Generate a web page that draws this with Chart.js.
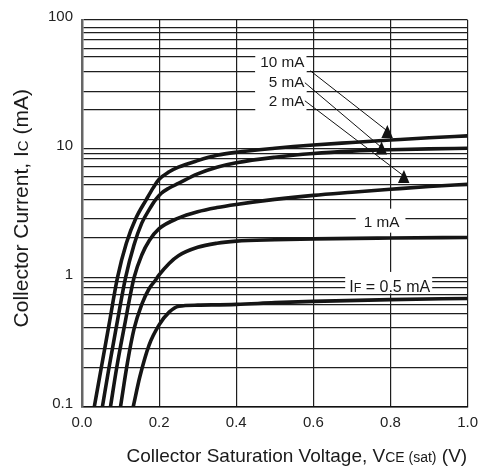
<!DOCTYPE html>
<html><head><meta charset="utf-8">
<style>html,body{margin:0;padding:0;background:#fff}#wrap{width:485px;height:469px;position:relative}</style>
<script src="https://cdn.jsdelivr.net/npm/chart.js@4.4.1/dist/chart.umd.min.js"></script>
</head><body><div id="wrap"><canvas id="c" width="485" height="469"></canvas></div>
<script>
const FONT = '"Liberation Sans", Arial, Helvetica, sans-serif';

// ---- axis ticks ----
const xTickValues = [0, 0.2, 0.4, 0.6, 0.8, 1.0];
const xTickLabels = ['0.0', '0.2', '0.4', '0.6', '0.8', '1.0'];
const yMajorValues = [0.1, 1, 10, 100];
const yMajorLabels = ['0.1', '1', '10', '100'];
const yMinorGrid = [0.2, 0.28, 0.41, 0.53, 0.62, 0.74, 0.84, 0.93,
                    2.04, 2.87, 4.04, 5.27, 6.1, 7.3, 8.45, 9.2,
                    20, 28, 39.5, 52, 60, 71, 80, 88];

// ---- series: [VCE(sat) V, IC mA] ----
const curve10mA = [[0.032,0.1],[0.05,0.2],[0.07,0.43],[0.092,1.0],[0.115,1.85],[0.14,2.9],[0.166,4.0],[0.185,5.0],[0.2,5.8],[0.225,6.6],[0.25,7.2],[0.3,8.1],[0.35,8.9],[0.4,9.4],[0.5,10.1],[0.6,10.7],[0.7,11.2],[0.8,11.7],[0.9,12.2],[1.0,12.6]];
const curve5mA = [[0.053,0.1],[0.07,0.2],[0.09,0.43],[0.113,1.0],[0.135,1.8],[0.155,2.65],[0.175,3.4],[0.19,4.0],[0.205,4.5],[0.225,4.95],[0.25,5.4],[0.3,6.4],[0.35,7.2],[0.4,7.8],[0.5,8.6],[0.6,9.2],[0.7,9.6],[0.8,9.85],[0.9,10.0],[1.0,10.1]];
const curve2mA = [[0.074,0.1],[0.09,0.2],[0.11,0.42],[0.135,1.0],[0.155,1.5],[0.175,1.95],[0.2,2.4],[0.25,2.9],[0.3,3.25],[0.35,3.5],[0.4,3.7],[0.5,4.05],[0.6,4.35],[0.7,4.6],[0.8,4.85],[0.9,5.1],[1.0,5.3]];
const curve1mA = [[0.1,0.1],[0.118,0.22],[0.135,0.4],[0.155,0.62],[0.174,0.82],[0.19,0.95],[0.2,1.05],[0.226,1.29],[0.25,1.48],[0.3,1.72],[0.35,1.85],[0.4,1.92],[0.5,1.97],[0.6,2.0],[0.8,2.03],[1.0,2.05]];
const curve05mA = [[0.133,0.1],[0.15,0.17],[0.174,0.3],[0.2,0.43],[0.226,0.54],[0.251,0.6],[0.3,0.612],[0.4,0.62],[0.5,0.64],[0.6,0.655],[0.8,0.675],[1.0,0.69]];
const seriesNames = ['10 mA', '5 mA', '2 mA', '1 mA', '0.5 mA'];
const seriesData = [curve10mA, curve5mA, curve2mA, curve1mA, curve05mA];

// ---- annotations (data coordinates) ----
const arrowLabels = ['10 mA', '5 mA', '2 mA'];
const arrowLabelAt = [[0.577, 47.4], [0.577, 33.2], [0.577, 23.6]];   // right edge, text centre
const arrowFrom = [[0.592, 40.4], [0.578, 32.6], [0.578, 23.6]];
const arrowTo = [[0.792, 15.3], [0.777, 11.4], [0.835, 6.84]];
const label1mAText = '1 mA';
const label1mAAt = [0.777, 2.72];
const labelIFParts = ['I', 'F', ' = 0.5 mA'];
const labelIFAt = [0.798, 0.863];

const yTitleParts = ['Collector Current, I', 'C', ' (mA)'];
const xTitleParts = ['Collector Saturation Voltage, V', 'CE (sat)', ' (V)'];

function drawParts(ctx, parts, sizes, x, y, align) {
  let total = 0;
  const w = parts.map((p, i) => { ctx.font = sizes[i] + 'px ' + FONT; const m = ctx.measureText(p).width; total += m; return m; });
  let cx = align === 'center' ? x - total / 2 : x;
  parts.forEach((p, i) => { ctx.font = sizes[i] + 'px ' + FONT; ctx.fillText(p, cx, y); cx += w[i]; });
  return total;
}

const annot = {
  id: 'annot',
  beforeDatasetsDraw(chart) {
    const { ctx, scales: { x, y } } = chart;
    ctx.save();
    ctx.textBaseline = 'alphabetic';
    const F = 15.3, capC = 0.358 * F;
    ctx.font = F + 'px ' + FONT;
    const widths = arrowLabels.map(t => ctx.measureText(t).width);
    const maxW = Math.max(...widths);
    arrowLabels.forEach((t, i) => {
      const px = x.getPixelForValue(arrowLabelAt[i][0]), py = y.getPixelForValue(arrowLabelAt[i][1]);
      ctx.fillStyle = '#fff';
      ctx.fillRect(px - maxW - 5, py - 10.8, maxW + 7, 21.6);
    });
    ctx.fillStyle = '#1a1a1a';
    ctx.textAlign = 'right';
    arrowLabels.forEach((t, i) => {
      const px = x.getPixelForValue(arrowLabelAt[i][0]), py = y.getPixelForValue(arrowLabelAt[i][1]);
      ctx.fillText(t, px, py + capC);
    });
    // 1 mA
    ctx.textAlign = 'center';
    let px = x.getPixelForValue(label1mAAt[0]), py = y.getPixelForValue(label1mAAt[1]);
    const w1 = ctx.measureText(label1mAText).width;
    ctx.fillStyle = '#fff';
    ctx.fillRect(px - w1 / 2 - 8, py - 13, w1 + 14, 24);
    ctx.fillStyle = '#1a1a1a';
    ctx.fillText(label1mAText, px, py + capC);
    // IF = 0.5 mA
    ctx.textAlign = 'left';
    px = x.getPixelForValue(labelIFAt[0]); py = y.getPixelForValue(labelIFAt[1]);
    const sizes = [16, 12.5, 16];
    let tw = 0;
    labelIFParts.forEach((p, i) => { ctx.font = sizes[i] + 'px ' + FONT; tw += ctx.measureText(p).width; });
    ctx.fillStyle = '#fff';
    ctx.fillRect(px - tw / 2 - 4, py - 14, tw + 6, 21.5);
    ctx.fillStyle = '#1a1a1a';
    drawParts(ctx, labelIFParts, sizes, px, py + 0.358 * 16, 'center');
    ctx.restore();
  },
  afterDatasetsDraw(chart) {
    const { ctx, scales: { x, y } } = chart;
    ctx.save();
    ctx.strokeStyle = '#111';
    ctx.fillStyle = '#111';
    ctx.lineWidth = 1;
    arrowFrom.forEach((f, i) => {
      const sx = x.getPixelForValue(f[0]), sy = y.getPixelForValue(f[1]);
      const ex = x.getPixelForValue(arrowTo[i][0]), ey = y.getPixelForValue(arrowTo[i][1]);
      ctx.beginPath(); ctx.moveTo(sx, sy); ctx.lineTo(ex, ey + 6); ctx.stroke();
      ctx.beginPath(); ctx.moveTo(ex, ey); ctx.lineTo(ex - 6, ey + 13); ctx.lineTo(ex + 5.5, ey + 13); ctx.closePath(); ctx.fill();
    });
    ctx.restore();
  },
  afterDraw(chart) {
    const { ctx, chartArea: a } = chart;
    ctx.save();
    ctx.fillStyle = '#1a1a1a';
    ctx.textBaseline = 'alphabetic';
    // y title (rotated)
    ctx.save();
    ctx.translate(27.5, (a.top + a.bottom) / 2 - 5);
    ctx.rotate(-Math.PI / 2);
    drawParts(ctx, yTitleParts, [21, 15, 21], 0, 0, 'center');
    ctx.restore();
    // x title
    drawParts(ctx, xTitleParts, [19, 14, 19], (a.left + a.right) / 2 + 22, 461.5, 'center');
    ctx.restore();
  }
};

new Chart(document.getElementById('c'), {
  type: 'line',
  data: {
    datasets: seriesData.map((d, i) => ({
      label: seriesNames[i],
      data: d.map(([vx, vy]) => ({ x: vx, y: vy })),
      borderColor: '#151515',
      borderWidth: 3.6,
      pointRadius: 0,
      fill: false,
      cubicInterpolationMode: 'monotone',
      borderCapStyle: 'butt'
    }))
  },
  options: {
    responsive: false,
    animation: false,
    devicePixelRatio: 1,
    layout: { padding: { top: 20, right: 13, left: 0, bottom: 0 } },
    plugins: { legend: { display: false }, tooltip: { enabled: false } },
    scales: {
      x: {
        type: 'linear', min: 0, max: 1,
        afterBuildTicks: s => { s.ticks = xTickValues.map(v => ({ value: v })); },
        afterFit: s => { s.height = 62.5; },
        ticks: {
          callback: v => { const i = xTickValues.indexOf(v); return i >= 0 ? xTickLabels[i] : ''; },
          font: { family: FONT, size: 15 }, color: '#222', padding: 7, maxRotation: 0, autoSkip: false
        },
        grid: { color: '#1e1e1e', lineWidth: 1.2, drawTicks: false },
        border: { color: '#111', width: 1.5 }
      },
      y: {
        type: 'logarithmic', min: 0.1, max: 100,
        afterBuildTicks: s => {
          s.ticks = [...yMajorValues, ...yMinorGrid].sort((a, b) => a - b).map(v => ({ value: v }));
        },
        afterFit: s => { s.width = 82; },
        ticks: {
          callback: v => { const i = yMajorValues.indexOf(v); return i >= 0 ? yMajorLabels[i] : ''; },
          font: { family: FONT, size: 15 }, color: '#222', padding: 9, autoSkip: false, labelOffset: -3
        },
        grid: { color: '#1e1e1e', lineWidth: 1.2, drawTicks: false },
        border: { color: '#666', width: 2.5 }
      }
    }
  },
  plugins: [annot]
});
</script></body></html>
